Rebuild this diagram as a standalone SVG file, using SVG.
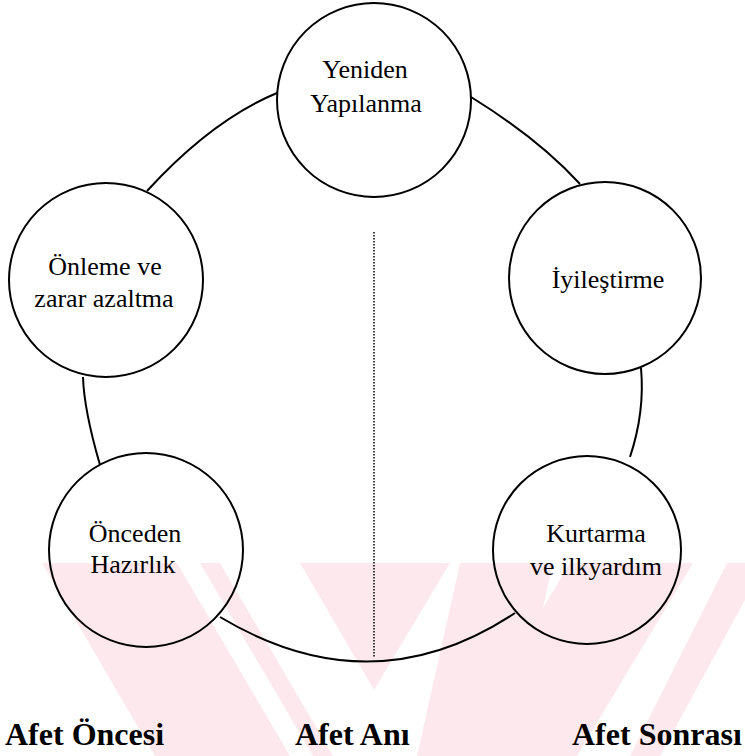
<svg xmlns="http://www.w3.org/2000/svg" width="745" height="756" viewBox="0 0 745 756">
<style>
.node{fill:none;stroke:#000;stroke-width:2}
.lbl{font-family:'Liberation Serif','Times New Roman',serif;font-size:26px;fill:#000;text-anchor:middle}
.phase{font-family:'Liberation Serif','Times New Roman',serif;font-size:32px;font-weight:bold;fill:#000}
.conn path{fill:none;stroke:#000;stroke-width:2}
.wm{fill:#fde9ed}
</style>
<defs><clipPath id="wmclip"><rect x="0" y="563" width="745" height="193"/></clipPath></defs>
<rect width="745" height="756" fill="#fff"/>
<g id="watermark" clip-path="url(#wmclip)">
<polygon class="wm" points="42,563 177,563 290,756 155,756"/>
<polygon class="wm" points="200,563 220,563 333,756 313,756"/>
<polygon class="wm" points="300,563 450,563 374,690"/>
<polygon class="wm" points="460,563 553,563 510,756 417,756"/>
<polygon class="wm" points="570,563 693,563 577,756 454,756"/>
<polygon class="wm" points="727,563 745,563 745,600 660,756 630,756"/>
</g>
<g id="connectors" class="conn">
<path d="M277,93 Q212,120 147,191"/>
<path d="M83,377 Q84,410 100,465"/>
<path d="M220,617 Q372,708 515,613"/>
<path d="M630,457 Q645,412 641,368"/>
<path d="M580,184 Q539,139 471,97"/>
<line x1="374" y1="232" x2="374" y2="657" stroke="#000" stroke-width="1.5" stroke-dasharray="1.5 1.5"/>
</g>
<g id="n-yeniden"><circle class="node" cx="374" cy="100" r="97"/><text class="lbl" x="365" y="78">Yeniden</text><text class="lbl" x="366" y="112">Yapılanma</text></g>
<g id="n-onleme"><circle class="node" cx="106" cy="280" r="97"/><text class="lbl" x="105" y="275">Önleme ve</text><text class="lbl" x="104" y="307">zarar azaltma</text></g>
<g id="n-iyilestirme"><circle class="node" cx="605" cy="278" r="96"/><text class="lbl" x="608" y="288">İyileştirme</text></g>
<g id="n-onceden"><circle class="node" cx="146" cy="550" r="97"/><text class="lbl" x="135" y="542">Önceden</text><text class="lbl" x="133" y="573">Hazırlık</text></g>
<g id="n-kurtarma"><circle class="node" cx="587" cy="550" r="94"/><text class="lbl" x="596" y="542">Kurtarma</text><text class="lbl" x="596" y="575">ve ilkyardım</text></g>
<g id="phases">
<text class="phase" x="5" y="745">Afet Öncesi</text>
<text class="phase" x="295" y="745">Afet Anı</text>
<text class="phase" x="572" y="745">Afet Sonrası</text>
</g>
</svg>
